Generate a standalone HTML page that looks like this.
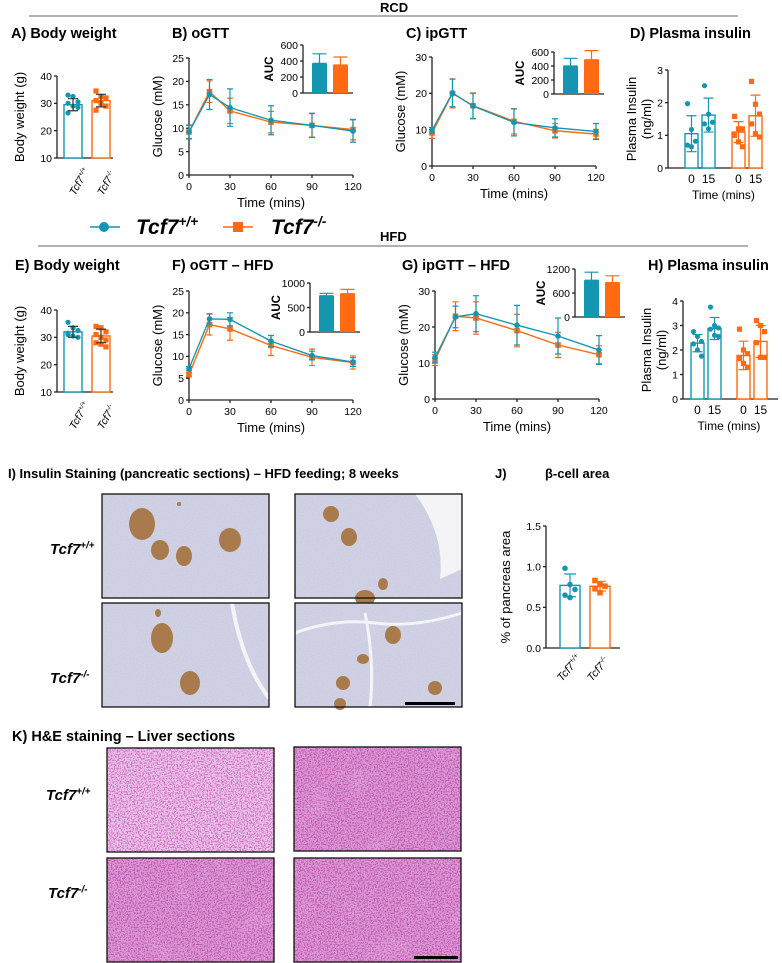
<!DOCTYPE html>
<html><head><meta charset="utf-8"><style>
html,body{margin:0;padding:0;background:#fff;width:782px;height:963px;overflow:hidden}
svg{display:block;font-family:"Liberation Sans",Arial,sans-serif}
.tk{font-size:10.5px}
</style></head><body>
<svg id="fig" width="782" height="963" viewBox="0 0 782 963">
<defs>
<filter id="pnoise" x="0" y="0" width="100%" height="100%">
<feTurbulence type="fractalNoise" baseFrequency="0.9" numOctaves="1" seed="3" result="n"/>
<feColorMatrix type="matrix" values="0 0 0 0 0.80  0 0 0 0 0.80  0 0 0 0 0.88  0 0 0 -1.6 1.2" in="n" result="c"/>
<feComposite in="c" in2="SourceGraphic" operator="in"/>
</filter>
<filter id="lnoise" x="0" y="0" width="100%" height="100%">
<feTurbulence type="fractalNoise" baseFrequency="0.7" numOctaves="2" seed="7" result="n"/>
<feColorMatrix type="matrix" values="0 0 0 0 1  0 0 0 0 1  0 0 0 0 1  0 0 0 -7 4.4" in="n" result="c"/>
<feComposite in="c" in2="SourceGraphic" operator="in"/>
</filter>
<filter id="dnoise" x="0" y="0" width="100%" height="100%">
<feTurbulence type="fractalNoise" baseFrequency="0.03" numOctaves="2" seed="11" result="n"/>
<feColorMatrix type="matrix" values="0 0 0 0 0.62  0 0 0 0 0.18  0 0 0 0 0.58  0 0 0 -3 1.3" in="n" result="c"/>
<feComposite in="c" in2="SourceGraphic" operator="in"/>
</filter>
</defs>
<g id="root"></g>
</svg>
<script>
// ---------- data ----------
const times = [0, 15, 30, 60, 90, 120];
const bwRcdWT = [33, 32.5, 30.5, 30, 29, 28.5, 26.5];
const bwRcdKO = [34.5, 32.5, 32, 31, 30, 29, 27.5];
const bwRcdMean = [29.5, 31];
const bwRcdSd = [2.2, 2.3];
const ogttWT = [9.2, 17.2, 14.4, 11.7, 10.6, 9.4];
const ogttWTsd = [1.5, 3.2, 4, 3.1, 2.6, 2.4];
const ogttKO = [9.2, 17.8, 13.7, 11.3, 10.6, 9.7];
const ogttKOsd = [1.4, 2.3, 2.7, 2.3, 2.5, 2.2];
const ogttAuc = [370, 350];
const ogttAucSd = [120, 100];
const ipgttWT = [9.8, 20.1, 16.5, 12, 10.5, 9.5];
const ipgttWTsd = [0.8, 3.8, 3.5, 3.7, 2.5, 2.2];
const ipgttKO = [9.1, 20, 16.6, 12.3, 9.7, 8.8];
const ipgttKOsd = [1.5, 4, 3.5, 3.5, 2, 1.3];
const ipgttAuc = [400, 490];
const ipgttAucSd = [110, 130];
const insRcdMean = [1.05, 1.62, 1.1, 1.6];
const insRcdSd = [0.55, 0.52, 0.32, 0.63];
const insRcdPts = [[1.97, 1.18, 0.82, 0.7, 0.65], [2.52, 1.65, 1.4, 1.35, 1.2], [1.58, 1.2, 1.2, 1.0, 0.8, 0.65], [2.65, 1.95, 1.65, 1.35, 1.05, 0.95]];
const bwHfdWT = [35.5, 33.5, 32.5, 31, 30.5, 30, 31.5];
const bwHfdKO = [34, 33.5, 32, 31, 30, 29, 28, 27.5, 26.5];
const bwHfdMean = [32, 30.5];
const bwHfdSd = [2, 2.5];
const ogttHWT = [7.2, 18.6, 18.5, 13.5, 10.2, 8.7];
const ogttHWTsd = [0.5, 1.2, 1.5, 1.3, 1, 1];
const ogttHKO = [5.8, 17.3, 16.3, 12.5, 9.8, 8.6];
const ogttHKOsd = [0.5, 2.4, 2.6, 2.3, 1.9, 1.5];
const ogttHAuc = [740, 780];
const ogttHAucSd = [50, 90];
const ipgttHWT = [11.5, 22.8, 23.7, 20.5, 17.5, 13.6];
const ipgttHWTsd = [1.5, 3, 5, 5.5, 5, 4];
const ipgttHKO = [10.8, 23, 22.5, 19, 15, 12.3];
const ipgttHKOsd = [1.5, 4, 4.5, 4.5, 3.5, 2.5];
const ipgttHAuc = [920, 860];
const ipgttHAucSd = [200, 170];
const insHfdMean = [2.28, 2.88, 1.78, 2.35];
const insHfdSd = [0.35, 0.45, 0.58, 0.65];
const insHfdPts = [[2.75, 2.55, 2.35, 2.25, 2.0, 1.75], [3.75, 3.0, 2.9, 2.85, 2.6, 2.55], [2.85, 2.0, 1.85, 1.65, 1.45, 1.3], [3.2, 3.0, 2.75, 2.3, 1.7, 1.7]];
const betaMean = [0.77, 0.76];
const betaSd = [0.14, 0.06];
const betaPts = [[0.98, 0.78, 0.72, 0.65, 0.62], [0.83, 0.78, 0.76, 0.73, 0.68]];

const TEAL = '#1596b0', ORANGE = '#ff6a13';
const NS = 'http://www.w3.org/2000/svg';
const root = document.getElementById('root');
function mk(tag, attrs, parent, text) {
  const e = document.createElementNS(NS, tag);
  for (const k in attrs) e.setAttribute(k, attrs[k]);
  if (text !== undefined) e.textContent = text;
  (parent || root).appendChild(e);
  return e;
}
function lin(d0, d1, r0, r1) { return v => r0 + (v - d0) * (r1 - r0) / (d1 - d0); }
function marker(g, x, y, col, r, sq) {
  let m;
  if (sq) m = mk('rect', {x: x - r, y: y - r, width: 2 * r, height: 2 * r, fill: col}, g);
  else m = mk('circle', {cx: x, cy: y, r: r, fill: col}, g);
  
  
}
function errbar(g, x, y1, y2, col, w) {
  const p = mk('path', {d: `M${x},${y1}V${y2}M${x - w},${y1}H${x + w}M${x - w},${y2}H${x + w}`, stroke: col, 'stroke-width': 1.2, fill: 'none'}, g);
  
  
}
function yaxis(g, x, ys, ticks, y0, y1, fmt) {
  mk('line', {x1: x, x2: x, y1: y0, y2: y1, stroke: '#222', 'stroke-width': 1.3}, g);
  ticks.forEach(t => {
    mk('line', {x1: x - 3, x2: x, y1: ys(t), y2: ys(t), stroke: '#222', 'stroke-width': 1.3}, g);
    const tx = mk('text', {x: x - 5, y: ys(t) + 3.8, 'text-anchor': 'end', class: 'tk'}, g, fmt ? fmt(t) : t);
    
    
  });
}
function ylabel(g, x, y, txt, size, bold) {
  const t = mk('text', {x: x, y: y, transform: `rotate(-90 ${x} ${y})`, 'text-anchor': 'middle', 'font-size': size || 12.5, 'font-weight': bold ? 'bold' : 'normal'}, g, txt);
  
  
}
function title(x, y, txt, name, size) {
  const t = mk('text', {x: x, y: y, 'font-weight': 'bold', 'font-size': size || 14.5}, root, txt);
  
  
}
function genoLabel(g, x, y, sup, size) {
  const t = mk('text', {x: x, y: y, 'font-style': 'italic', 'font-size': size, 'font-weight': size > 11 ? 'bold' : 'normal'}, g);
  mk('tspan', {}, t, 'Tcf7');
  mk('tspan', {dy: -size * 0.38, 'font-size': size * 0.65}, t, sup);
  return t;
}

function bwPanel(name, ax, yTop, yBot, wt, ko, mean, sd) {
  const g = mk('g', {});  
  const ys = lin(10, 40, yBot, yTop);
  yaxis(g, ax, ys, [10, 20, 30, 40], yBot, yTop);
  mk('line', {x1: ax, x2: ax + 56, y1: yBot, y2: yBot, stroke: '#222', 'stroke-width': 1.3}, g);
  ylabel(g, 24, (yTop + yBot) / 2, 'Body weight (g)', 13);
  const cx = [ax + 16, ax + 44], cols = [TEAL, ORANGE], pts = [wt, ko];
  for (let i = 0; i < 2; i++) {
    const b = mk('rect', {x: cx[i] - 9, y: ys(mean[i]), width: 18, height: yBot - ys(mean[i]), fill: '#fff', stroke: cols[i], 'stroke-width': 1.4}, g);
     
    pts[i].forEach((v, j) => marker(g, cx[i] + ((j % 3) - 1) * 5, ys(v), cols[i], 2.6, i === 1));
    errbar(g, cx[i], ys(mean[i] - sd[i]), ys(mean[i] + sd[i]), '#333', 5);
  }
  const l1 = genoLabel(g, cx[0] + 2, yBot + 38, '+/+', 10.5);
  l1.setAttribute('transform', `rotate(-60 ${cx[0] + 2} ${yBot + 38})`);
  const l2 = genoLabel(g, cx[1] + 2, yBot + 38, '-/-', 10.5);
  l2.setAttribute('transform', `rotate(-60 ${cx[1] + 2} ${yBot + 38})`);
}

function gttPanel(name, ax, axR, yTop, yBot, ymax, yticks, wt, wtsd, ko, kosd, inset, auc, aucSd) {
  const g = mk('g', {});  
  const xs = lin(0, 120, ax, axR), ys = lin(0, ymax, yBot, yTop);
  yaxis(g, ax, ys, yticks, yBot, yTop);
  mk('line', {x1: ax, x2: axR, y1: yBot, y2: yBot, stroke: '#222', 'stroke-width': 1.3}, g);
  [0, 30, 60, 90, 120].forEach(t => {
    mk('line', {x1: xs(t), x2: xs(t), y1: yBot, y2: yBot + 3, stroke: '#222', 'stroke-width': 1.3}, g);
    const tx = mk('text', {x: xs(t), y: yBot + 15, 'text-anchor': 'middle', class: 'tk'}, g, t);
     
  });
  const xt = mk('text', {x: (ax + axR) / 2, y: yBot + 32, 'text-anchor': 'middle', 'font-size': 13}, g, 'Time (mins)');
   
  ylabel(g, ax - 27, (yTop + yBot) / 2, 'Glucose (mM)', 13);
  [[ko, kosd, ORANGE, true], [wt, wtsd, TEAL, false]].forEach(([v, s, c, sq]) => {
    const p = mk('polyline', {points: times.map((t, i) => xs(t) + ',' + ys(v[i])).join(' '), fill: 'none', stroke: c, 'stroke-width': 1.4}, g);
     
    times.forEach((t, i) => { errbar(g, xs(t), ys(v[i] - s[i]), ys(v[i] + s[i]), c, 3); marker(g, xs(t), ys(v[i]), c, 2.8, sq); });
  });
  const [ix, iTop, iBot, imax, iticks] = inset;
  const ig = mk('g', {}, g);  
  const iys = lin(0, imax, iBot, iTop);
  yaxis(ig, ix, iys, iticks, iBot, iTop);
  mk('line', {x1: ix, x2: ix + 50, y1: iBot, y2: iBot, stroke: '#222', 'stroke-width': 1.3}, ig);
  ylabel(ig, ix - 30, (iTop + iBot) / 2, 'AUC', 11.5, true);
  [TEAL, ORANGE].forEach((c, i) => {
    const bx = ix + 9 + i * 21;
    const b = mk('rect', {x: bx, y: iys(auc[i]), width: 15, height: iBot - iys(auc[i]), fill: c}, ig);
     
    errbar(ig, bx + 7.5, iys(auc[i]), iys(auc[i] + aucSd[i]), c, 7);
  });
}

function insPanel(name, ax, yTop, yBot, ymax, yticks, mean, sd, pts, bx) {
  const g = mk('g', {});  
  const ys = lin(0, ymax, yBot, yTop);
  yaxis(g, ax, ys, yticks, yBot, yTop);
  mk('line', {x1: ax, x2: ax + 95, y1: yBot, y2: yBot, stroke: '#222', 'stroke-width': 1.3}, g);
  ylabel(g, ax - 32, (yTop + yBot) / 2, 'Plasma Insulin', 13);
  ylabel(g, ax - 17, (yTop + yBot) / 2, '(ng/ml)', 13);
  const cols = [TEAL, TEAL, ORANGE, ORANGE], labs = ['0', '15', '0', '15'];
  mean.forEach((m, i) => {
    const x = bx[i];
    const b = mk('rect', {x: x, y: ys(m), width: 13, height: yBot - ys(m), fill: '#fff', stroke: cols[i], 'stroke-width': 1.4}, g);
     
    pts[i].forEach((v, j) => marker(g, x + 6.5 + ((j % 3) - 1) * 4, ys(v), cols[i], 2.6, i > 1));
    errbar(g, x + 6.5, ys(m - sd[i]), ys(m + sd[i]), cols[i], 5);
    const t = mk('text', {x: x + 6.5, y: yBot + 15, 'text-anchor': 'middle', 'font-size': 12}, g, labs[i]);
     
  });
  const xt = mk('text', {x: (bx[0] + bx[3] + 13) / 2, y: yBot + 31, 'text-anchor': 'middle', 'font-size': 12}, g, 'Time (mins)');
   
}

// ---------- headers ----------
title(380, 12, 'RCD', 'rcd-header', 13);
mk('line', {x1: 29, x2: 738, y1: 16, y2: 16, stroke: '#666', 'stroke-width': 1});
title(11, 38, 'A)  Body weight', 'panel-a-title');
title(172, 38, 'B)  oGTT', 'panel-b-title');
title(406, 38, 'C)  ipGTT', 'panel-c-title');
title(630, 38, 'D)  Plasma insulin', 'panel-d-title');
bwPanel('panel-a-chart', 57, 76, 158, bwRcdWT, bwRcdKO, bwRcdMean, bwRcdSd);
gttPanel('panel-b-chart', 189, 353, 58, 175, 25, [0, 5, 10, 15, 20, 25], ogttWT, ogttWTsd, ogttKO, ogttKOsd, [303, 45, 93, 600, [0, 200, 400, 600]], ogttAuc, ogttAucSd);
gttPanel('panel-c-chart', 432, 596, 57, 166, 30, [0, 10, 20, 30], ipgttWT, ipgttWTsd, ipgttKO, ipgttKOsd, [554, 52, 94, 600, [0, 200, 400, 600]], ipgttAuc, ipgttAucSd);
insPanel('panel-d-chart', 668, 70, 168, 3, [0, 1, 2, 3], insRcdMean, insRcdSd, insRcdPts, [685, 702, 732, 749]);

const lg = mk('g', {});  
mk('line', {x1: 90, x2: 120, y1: 227, y2: 227, stroke: TEAL, 'stroke-width': 1.5}, lg);
mk('circle', {cx: 104, cy: 227, r: 5, fill: TEAL}, lg);
genoLabel(lg, 136, 234, '+/+', 21);
mk('line', {x1: 223, x2: 253, y1: 227, y2: 227, stroke: ORANGE, 'stroke-width': 1.5}, lg);
mk('rect', {x: 233, y: 222, width: 10, height: 10, fill: ORANGE}, lg);
genoLabel(lg, 271, 234, '-/-', 21);

title(380, 241, 'HFD', 'hfd-header', 13);
mk('line', {x1: 38, x2: 748, y1: 246, y2: 246, stroke: '#666', 'stroke-width': 1});
title(15, 270, 'E)  Body weight', 'panel-e-title');
title(172, 270, 'F)  oGTT – HFD', 'panel-f-title');
title(402, 270, 'G)  ipGTT – HFD', 'panel-g-title');
title(648, 270, 'H)  Plasma insulin', 'panel-h-title');
bwPanel('panel-e-chart', 57, 310, 392, bwHfdWT, bwHfdKO, bwHfdMean, bwHfdSd);
gttPanel('panel-f-chart', 189, 353, 291, 400, 25, [0, 5, 10, 15, 20, 25], ogttHWT, ogttHWTsd, ogttHKO, ogttHKOsd, [310, 283, 332, 1000, [0, 500, 1000]], ogttHAuc, ogttHAucSd);
gttPanel('panel-g-chart', 435, 599, 291, 399, 30, [0, 10, 20, 30], ipgttHWT, ipgttHWTsd, ipgttHKO, ipgttHKOsd, [575, 269, 317, 1200, [0, 600, 1200]], ipgttHAuc, ipgttHAucSd);
insPanel('panel-h-chart', 683, 301, 399, 4, [0, 1, 2, 3, 4], insHfdMean, insHfdSd, insHfdPts, [691, 708, 737, 754]);

// ---------- I images ----------
title(8, 478, 'I) Insulin Staining (pancreatic sections) – HFD feeding; 8 weeks', 'panel-i-title', 13);
const islets = [
  [[40, 30, 13, 16], [58, 56, 9, 10], [82, 62, 8, 10], [128, 46, 11, 12], [77, 10, 2, 2]],
  [[36, 20, 8, 8], [54, 43, 8, 9], [70, 104, 10, 8], [88, 90, 5, 6]],
  [[60, 35, 11, 15], [88, 80, 10, 12], [56, 10, 3, 4]],
  [[98, 32, 8, 9], [68, 56, 6, 5], [48, 80, 7, 7], [45, 101, 6, 6], [140, 85, 7, 7]]
];
const pImgs = [[102, 494], [295, 494], [102, 603], [295, 603]];
pImgs.forEach(([x, y], i) => {
  const g = mk('g', {});  
  mk('rect', {x: x, y: y, width: 167, height: 104, fill: '#cacbe0'}, g);
  mk('rect', {x: x, y: y, width: 167, height: 104, fill: '#000', filter: 'url(#pnoise)', opacity: 0.4}, g);
  if (i === 1) mk('path', {d: `M${x + 120},${y} L${x + 167},${y} L${x + 167},${y + 75} L${x + 145},${y + 85} Q${x + 150},${y + 40} ${x + 120},${y}Z`, fill: '#f4f4f6'}, g);
  if (i === 2) mk('path', {d: `M${x + 130},${y} Q${x + 140},${y + 60} ${x + 167},${y + 95}`, stroke: '#f4f4f6', 'stroke-width': 4, fill: 'none'}, g);
  if (i === 3) mk('path', {d: `M${x},${y + 30} Q${x + 40},${y + 15} ${x + 80},${y + 20} T${x + 167},${y + 10} M${x + 70},${y + 10} Q${x + 80},${y + 60} ${x + 75},${y + 104}`, stroke: '#f4f4f6', 'stroke-width': 3, fill: 'none'}, g);
  islets[i].forEach(([cx, cy, rx, ry]) => mk('ellipse', {cx: x + cx, cy: y + cy, rx: rx, ry: ry, fill: '#a97b4c'}, g));
  mk('rect', {x: x, y: y, width: 167, height: 104, fill: 'none', stroke: '#111', 'stroke-width': 1.3}, g);
});
mk('rect', {x: 405, y: 702, width: 50, height: 3, fill: '#000'});
genoLabel(root, 50, 554, '+/+', 15);
genoLabel(root, 50, 683, '-/-', 15);

// ---------- J ----------
title(495, 478, 'J)', 'panel-j-label', 13);
title(545, 478, 'β-cell area', 'panel-j-title', 13);
(function () {
  const g = mk('g', {});  
  const ys = lin(0, 1.5, 648, 526);
  yaxis(g, 546, ys, [0, 0.5, 1.0, 1.5], 648, 526, t => t.toFixed(1));
  mk('line', {x1: 546, x2: 620, y1: 648, y2: 648, stroke: '#222', 'stroke-width': 1.3}, g);
  ylabel(g, 510, 587, '% of pancreas area', 13);
  const cols = [TEAL, ORANGE], bx = [560, 590];
  betaMean.forEach((m, i) => {
    const b = mk('rect', {x: bx[i], y: ys(m), width: 20, height: 648 - ys(m), fill: '#fff', stroke: cols[i], 'stroke-width': 1.4}, g);
     
    betaPts[i].forEach((v, j) => marker(g, bx[i] + 10 + ((j % 3) - 1) * 5, ys(v), cols[i], 2.8, i === 1));
    errbar(g, bx[i] + 10, ys(m - betaSd[i]), ys(m + betaSd[i]), cols[i], 6);
    const l = genoLabel(g, bx[i] + 2, 682, i ? '-/-' : '+/+', 11);
    l.setAttribute('transform', `rotate(-50 ${bx[i] + 2} 682)`);
  });
})();

// ---------- K ----------
title(12, 741, 'K)  H&E staining – Liver sections', 'panel-k-title', 14.5);
const lImgs = [[107, 748], [294, 747], [107, 858], [294, 858]];
lImgs.forEach(([x, y], i) => {
  const g = mk('g', {});  
  mk('rect', {x: x, y: y, width: 167, height: 104, fill: i === 0 ? '#cf6ac4' : '#c255b4'}, g);
  mk('rect', {x: x, y: y, width: 167, height: 104, fill: '#000', filter: 'url(#dnoise)', opacity: 0.6}, g);
  mk('rect', {x: x, y: y, width: 167, height: 104, fill: '#000', filter: 'url(#lnoise)', opacity: i === 0 ? 0.6 : 0.4}, g);
  mk('rect', {x: x, y: y, width: 167, height: 104, fill: 'none', stroke: '#111', 'stroke-width': 1.3}, g);
});
mk('rect', {x: 414, y: 956, width: 44, height: 3, fill: '#000'});
genoLabel(root, 46, 800, '+/+', 15);
genoLabel(root, 48, 898, '-/-', 15);
</script>
</body></html>
